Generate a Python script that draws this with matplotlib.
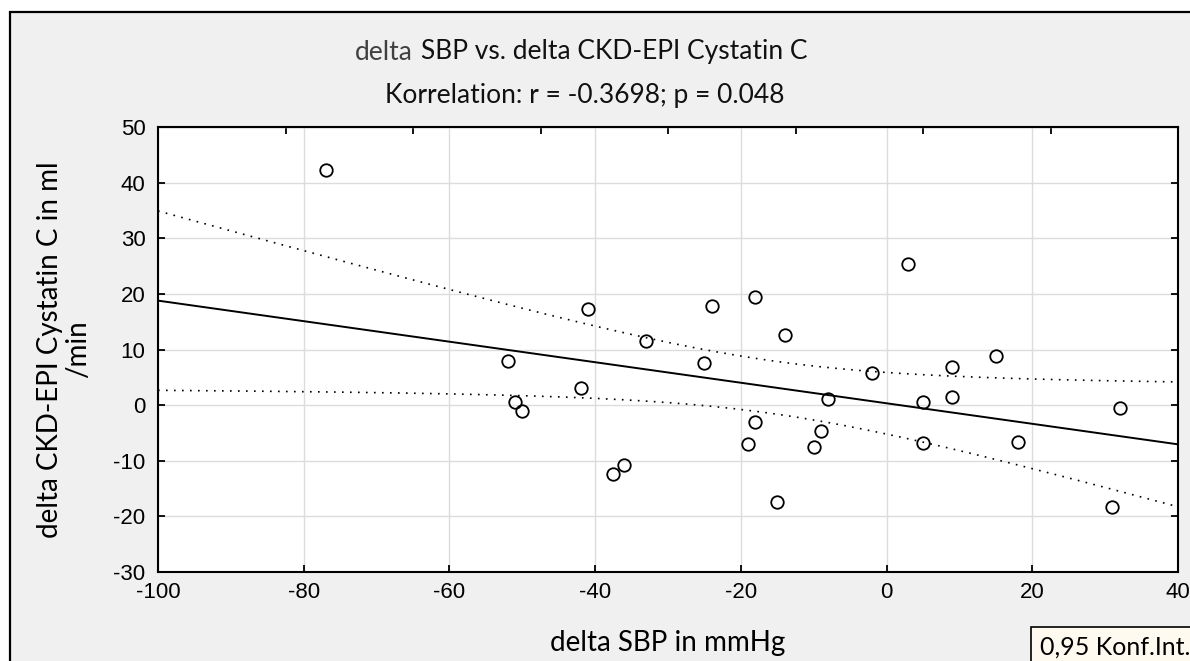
import numpy as np
import matplotlib
matplotlib.use("Agg")
import matplotlib.pyplot as plt
from matplotlib.patches import Rectangle
from matplotlib.offsetbox import TextArea, HPacker, AnnotationBbox

plt.rcParams["axes.unicode_minus"] = False

# ── Data ────────────────────────────────────────────────────────────────
delta_sbp = [-77, -41, -24, -18, -14, 3, -52, -33, -25, -42, -51, -50, -8,
             -18, -19, -9, -10, -36, -37.5, -15, -2, 9, 15, 5, 9, 32, 5, 18, 31]
delta_cys = [42.2, 17.3, 17.8, 19.5, 12.6, 25.3, 7.9, 11.5, 7.6, 3.1, 0.6, -1.1, 1.1,
             -3.0, -6.9, -4.7, -7.6, -10.7, -12.4, -17.5, 5.8, 6.8, 8.8, 0.5, 1.4,
             -0.6, -6.8, -6.7, -18.3]
x_ticks = [-100, -80, -60, -40, -20, 0, 20, 40]
y_ticks = [-30, -20, -10, 0, 10, 20, 30, 40, 50]
top_ticks = [-82.5, -65, -47.5, -30, -12.5, 5, 22.5]

TICK_FONT = "Liberation Sans"
TEXT_FONT = "Lato"

# ── Regression with 0.95 confidence band ────────────────────────────────
x = np.array(delta_sbp, dtype=float)
y = np.array(delta_cys, dtype=float)
n = len(x)
slope, intercept = np.polyfit(x, y, 1)
resid = y - (slope * x + intercept)
s = np.sqrt(np.sum(resid ** 2) / (n - 2))
sxx = np.sum((x - x.mean()) ** 2)
t_crit = 2.052  # t(0.975, df=27)
xs = np.linspace(-100, 40, 200)
fit = slope * xs + intercept
half = t_crit * s * np.sqrt(1.0 / n + (xs - x.mean()) ** 2 / sxx)

fig = plt.figure(figsize=(11.9, 6.61), dpi=100, facecolor="white")

# grey panel with black frame (left/top visible)
fig.patches.append(Rectangle((10 / 1190, -0.05), 1.2, (661 - 12) / 661 + 0.05,
                             transform=fig.transFigure, facecolor="#f0f0f0",
                             edgecolor="black", linewidth=1.6, zorder=-10))

ax = fig.add_axes([158 / 1190, 1 - 572 / 661, 1020 / 1190, 445 / 661])
ax.set_facecolor("white")

ax.plot(xs, fit, color="black", linewidth=1.4, zorder=3)
ax.plot(xs, fit + half, color="black", linewidth=1.2, linestyle=(0, (1, 3.8)), zorder=3)
ax.plot(xs, fit - half, color="black", linewidth=1.2, linestyle=(0, (1, 3.8)), zorder=3)
ax.plot(x, y, "o", markersize=9, markerfacecolor="none", markeredgecolor="black",
        markeredgewidth=1.3, zorder=4)

ax.set_xlim(-100, 40)
ax.set_ylim(-30, 50)
ax.set_xticks(x_ticks)
ax.set_yticks(y_ticks)
ax.grid(True, color="#dcdcdc", linewidth=1.0, zorder=0)
ax.set_axisbelow(True)
for sp in ax.spines.values():
    sp.set_linewidth(1.5)
ax.tick_params(direction="in", length=5, width=1.3, right=True,
               labelsize=16, pad=7)
ax.tick_params(axis="y", pad=9)
for lab in ax.get_xticklabels() + ax.get_yticklabels():
    lab.set_fontfamily(TICK_FONT)

top = ax.secondary_xaxis("top")
top.set_xticks(top_ticks)
top.set_xticklabels([])
top.tick_params(direction="in", length=5, width=1.3)

ax.set_xlabel("delta SBP in mmHg", fontsize=20, fontfamily=TEXT_FONT, labelpad=20)
ax.set_ylabel("delta CKD-EPI Cystatin C in ml\n/min", fontsize=20,
              fontfamily=TEXT_FONT, labelpad=16, linespacing=1.1)

# title, "delta" in grey
title1 = HPacker(children=[
    TextArea("delta", textprops=dict(color="#404040", fontsize=19, fontfamily=TEXT_FONT)),
    TextArea("SBP vs. delta CKD-EPI Cystatin C",
             textprops=dict(color="#111111", fontsize=19, fontfamily=TEXT_FONT)),
], pad=0, sep=6, align="baseline")
ab = AnnotationBbox(title1, (581 / 1190, 1 - 52 / 661), xycoords="figure fraction",
                    frameon=False, box_alignment=(0.5, 0.5))
fig.add_artist(ab)
fig.text(585 / 1190, 1 - 95 / 661, "Korrelation: r = -0.3698; p = 0.048",
         fontsize=19, fontfamily=TEXT_FONT, color="#111111", ha="center", va="center")

# confidence-interval legend box
fig.text(1040 / 1190, 1 - 647 / 661, "0,95 Konf.Int.", fontsize=18, fontfamily=TEXT_FONT,
         ha="left", va="center",
         bbox=dict(boxstyle="square,pad=0.35", facecolor="#fffaf0", edgecolor="black",
                   linewidth=1.2))

fig.savefig("out.png", dpi=100, facecolor="white")
